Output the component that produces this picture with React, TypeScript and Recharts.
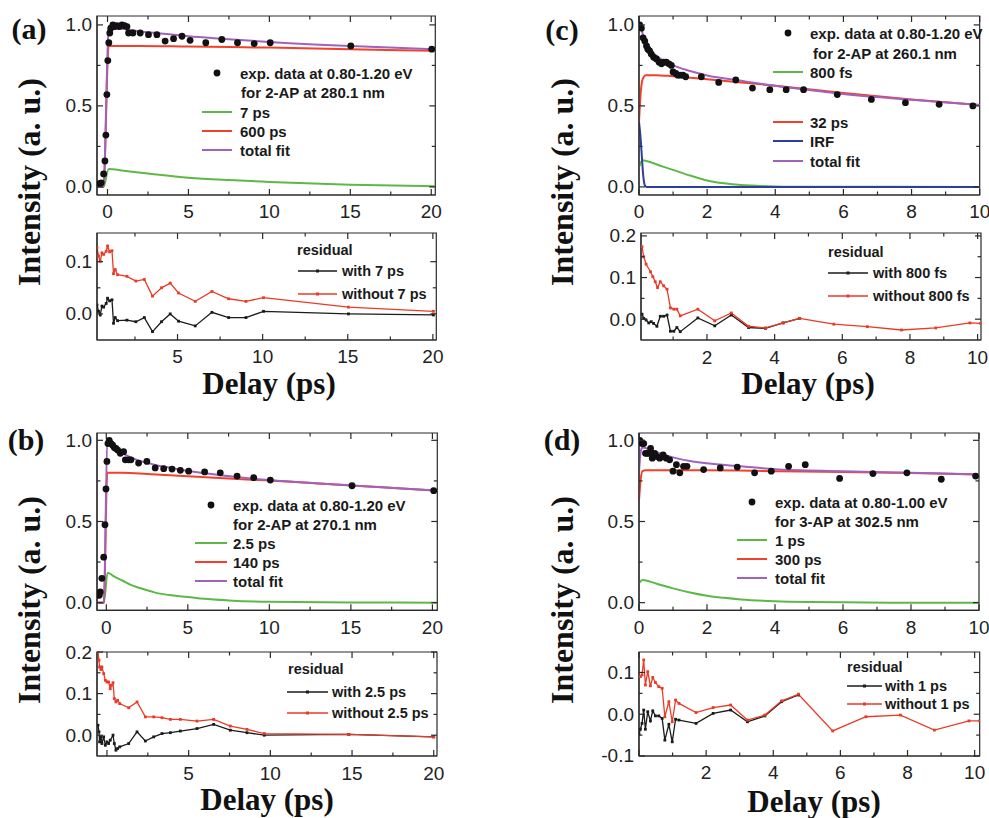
import React from "react";
import { ComposedChart, Line, Scatter, XAxis, YAxis, ReferenceArea } from "recharts";

type P = [number, number];

// colours
const GREEN = "#5cb947";
const RED = "#f2402a";
const PURPLE = "#a062bd";
const BLUE = "#2b3f9e";
const RES_RED = "#ea3b26";
const RES_BLACK = "#1b1b1b";
const AX = "#2a2a2a";

// (a) 2-AP at 280.1 nm
const aExp: P[] = [
  [-0.49, 0.02], [-0.39, 0.025], [-0.24, 0.08], [-0.16, 0.16], [-0.1, 0.32], [-0.04, 0.57],
  [0.02, 0.78], [0.08, 0.89], [0.14, 0.95], [0.2, 0.98], [0.33, 1.0], [0.45, 0.99], [0.58, 0.995],
  [0.72, 0.99], [0.89, 1.0], [1.05, 0.995], [1.2, 0.99], [1.3, 0.95], [1.57, 0.95], [2.02, 0.95],
  [2.53, 0.94], [3.05, 0.94], [3.56, 0.9], [4.08, 0.915], [4.6, 0.93], [5.1, 0.905], [6.07, 0.89],
  [7.06, 0.91], [8.03, 0.89], [9.06, 0.885], [10.05, 0.89], [15.03, 0.87], [20.03, 0.85],
];
const aFit7: P[] = [
  [-0.65, 0], [-0.25, 0], [0.07, 0.11], [1, 0.1], [2.5, 0.083], [5, 0.057], [7.5, 0.042],
  [10, 0.031], [15, 0.014], [20.25, 0.004],
];
const aFit600: P[] = [
  [-0.65, 0], [-0.25, 0], [0.07, 0.87], [2, 0.87], [5, 0.866], [10, 0.86], [15, 0.85], [20.25, 0.84],
];
const aTotal: P[] = [
  [-0.65, 0], [-0.25, 0], [0.07, 0.97], [0.2, 0.98], [1, 0.975], [2, 0.96], [3, 0.95], [5, 0.93],
  [7, 0.915], [10, 0.895], [15, 0.87], [20.25, 0.85],
];
const aResWith: P[] = [
  [0.27, 0.017], [0.36, 0.005], [0.46, -0.002], [0.56, 0.015], [0.66, 0.013], [0.81, 0.02],
  [0.89, 0.03], [1.01, 0.025], [1.15, 0.027], [1.24, -0.018], [1.34, -0.007], [1.48, -0.013],
  [2.03, -0.012], [2.55, -0.015], [3.05, -0.007], [3.53, -0.034], [4.06, -0.015], [4.57, 0.0],
  [5.06, -0.014], [6.04, -0.023], [7.02, 0.003], [8.0, -0.007], [9.02, -0.007], [10.05, 0.005],
  [15.04, 0.0], [20.03, -0.002],
];
const aResWithout: P[] = [
  [0.27, 0.127], [0.36, 0.111], [0.46, 0.101], [0.56, 0.117], [0.66, 0.114], [0.81, 0.12],
  [0.89, 0.13], [1.01, 0.119], [1.15, 0.121], [1.24, 0.077], [1.34, 0.085], [1.48, 0.075],
  [2.03, 0.072], [2.55, 0.063], [3.05, 0.066], [3.53, 0.034], [4.06, 0.05], [4.57, 0.059],
  [5.06, 0.04], [6.04, 0.024], [7.02, 0.043], [8.0, 0.029], [9.02, 0.024], [10.05, 0.031],
  [15.04, 0.013], [20.03, 0.005],
];

// (c) 2-AP at 260.1 nm
const cExp: P[] = [
  [0.02, 1.0], [0.07, 0.98], [0.12, 0.92], [0.17, 0.9], [0.22, 0.87], [0.26, 0.85], [0.31, 0.84],
  [0.36, 0.82], [0.43, 0.8], [0.51, 0.79], [0.59, 0.77], [0.66, 0.76], [0.73, 0.77], [0.8, 0.77],
  [0.88, 0.76], [0.95, 0.75], [1.0, 0.71], [1.08, 0.7], [1.14, 0.69], [1.21, 0.69], [1.29, 0.69],
  [1.37, 0.68], [1.83, 0.68], [2.34, 0.645], [2.84, 0.66], [3.33, 0.61], [3.84, 0.6], [4.32, 0.6],
  [4.83, 0.6], [5.82, 0.57], [6.82, 0.54], [7.82, 0.52], [8.81, 0.51], [9.8, 0.5],
];
const cFit800: P[] = [
  [0, 0.12], [0.1, 0.165], [0.4, 0.148], [0.7, 0.125], [1, 0.105], [1.5, 0.07], [2, 0.04],
  [2.5, 0.022], [3, 0.011], [4, 0.003], [5, 0.001], [10, 0],
];
const cFit32: P[] = [
  [0, 0.4], [0.05, 0.58], [0.1, 0.66], [0.2, 0.69], [0.5, 0.69], [1, 0.683], [2, 0.665],
  [3, 0.645], [4, 0.625], [6, 0.58], [8, 0.54], [10, 0.505],
];
const cIrf: P[] = [
  [0, 0.4], [0.04, 0.32], [0.08, 0.2], [0.12, 0.08], [0.17, 0.01], [0.22, 0], [10, 0],
];
const cTotal: P[] = [
  [0, 0.95], [0.05, 1.0], [0.1, 0.95], [0.2, 0.885], [0.4, 0.83], [0.6, 0.795], [1, 0.75],
  [1.5, 0.715], [2, 0.688], [3, 0.655], [4, 0.624], [5, 0.598], [6, 0.573], [8, 0.538], [10, 0.505],
];
const cResWith: P[] = [
  [0.08, 0.012], [0.13, 0.002], [0.2, -0.002], [0.28, -0.009], [0.35, -0.006], [0.42, -0.01],
  [0.52, -0.017], [0.62, 0.007], [0.72, 0.007], [0.82, 0.01], [0.92, -0.029], [1.02, -0.029],
  [1.11, -0.02], [1.21, -0.03], [1.73, 0.003], [2.23, -0.016], [2.72, 0.01], [3.23, -0.02],
  [3.73, -0.022], [4.25, -0.009], [4.74, 0.002],
];
const cResWithout: P[] = [
  [0.08, 0.174], [0.13, 0.15], [0.2, 0.132], [0.33, 0.114], [0.4, 0.102], [0.47, 0.09],
  [0.54, 0.076], [0.62, 0.09], [0.72, 0.08], [0.82, 0.072], [0.92, 0.027], [1.02, 0.024],
  [1.11, 0.024], [1.21, 0.008], [1.73, 0.024], [2.23, -0.004], [2.72, 0.015], [3.23, -0.017],
  [3.73, -0.021], [4.25, -0.009], [4.74, 0.002], [5.75, -0.012], [6.74, -0.018], [7.75, -0.026],
  [8.76, -0.021], [9.77, -0.009], [10.09, -0.01],
];

// (b) 2-AP at 270.1 nm
const bExp: P[] = [
  [-0.43, 0.045], [-0.37, 0.066], [-0.27, 0.15], [-0.16, 0.28], [-0.08, 0.48], [-0.02, 0.7],
  [0.04, 0.87], [0.1, 0.98], [0.18, 1.0], [0.29, 0.98], [0.39, 0.97], [0.49, 0.955], [0.59, 0.95],
  [0.7, 0.94], [0.86, 0.92], [1.06, 0.93], [1.17, 0.88], [1.37, 0.88], [1.51, 0.88], [1.98, 0.86],
  [2.49, 0.87], [3.0, 0.83], [3.52, 0.825], [4.03, 0.823], [4.54, 0.815], [5.05, 0.81],
  [6.03, 0.805], [6.99, 0.8], [8.02, 0.78], [9.04, 0.77], [10.06, 0.755], [15.07, 0.72], [20.08, 0.69],
];
const bFit25: P[] = [
  [-0.57, 0], [-0.15, 0], [0.08, 0.185], [0.5, 0.16], [1, 0.135], [1.5, 0.11], [2, 0.092],
  [2.5, 0.076], [3, 0.062], [4, 0.045], [5, 0.035], [6, 0.024], [7.5, 0.014], [10, 0.005],
  [15, 0.001], [20.3, 0],
];
const bFit140: P[] = [
  [-0.57, 0], [-0.15, 0], [0.06, 0.8], [1, 0.8], [2.5, 0.793], [5, 0.778], [7.5, 0.765],
  [10, 0.752], [15, 0.722], [20.3, 0.69],
];
const bTotal: P[] = [
  [-0.57, 0], [-0.15, 0], [0.06, 0.97], [0.2, 0.975], [0.5, 0.955], [1, 0.92], [1.5, 0.895],
  [2, 0.875], [2.5, 0.862], [3, 0.848], [4, 0.83], [5, 0.812], [7, 0.785], [10, 0.755],
  [15, 0.722], [20.3, 0.69],
];
const bResWith: P[] = [
  [-0.55, 0.024], [-0.49, 0.008], [-0.45, -0.016], [-0.37, -0.004], [-0.31, -0.02], [-0.2, -0.004],
  [-0.1, -0.024], [0, -0.016], [0.1, -0.02], [0.2, -0.012], [0.37, 0.0], [0.45, -0.02],
  [0.55, -0.036], [0.65, -0.032], [0.78, -0.028], [1.33, -0.02], [1.84, 0.008], [2.35, -0.014],
  [2.86, -0.004], [3.37, 0.004], [3.88, 0.006], [4.49, 0.01], [5.51, 0.016], [6.53, 0.026],
  [7.55, 0.012], [8.57, 0.006], [9.63, 0.0], [14.8, 0.002], [20, -0.004],
];
const bResWithout: P[] = [
  [-0.55, 0.2], [-0.49, 0.18], [-0.45, 0.164], [-0.37, 0.158], [-0.31, 0.164], [-0.2, 0.148],
  [-0.1, 0.132], [0, 0.128], [0.1, 0.128], [0.2, 0.112], [0.27, 0.12], [0.37, 0.126],
  [0.45, 0.088], [0.55, 0.08], [0.65, 0.084], [0.78, 0.076], [1.33, 0.066], [1.84, 0.08],
  [2.35, 0.044], [2.86, 0.044], [3.37, 0.042], [3.88, 0.038], [4.49, 0.038], [5.51, 0.034],
  [6.53, 0.038], [7.55, 0.022], [8.57, 0.014], [9.63, 0.004], [14.8, 0.002], [20, -0.004],
];

// (d) 3-AP at 302.5 nm
const dExp: P[] = [
  [0.02, 1.0], [0.05, 0.99], [0.09, 0.98], [0.14, 0.98], [0.19, 0.92], [0.24, 0.92], [0.29, 0.92],
  [0.34, 0.95], [0.39, 0.89], [0.46, 0.92], [0.53, 0.9], [0.61, 0.89], [0.71, 0.91], [0.8, 0.89],
  [0.9, 0.88], [1.0, 0.81], [1.1, 0.85], [1.2, 0.8], [1.31, 0.84], [1.41, 0.84], [1.9, 0.82],
  [2.39, 0.83], [2.89, 0.835], [3.4, 0.8], [3.89, 0.81], [4.4, 0.84], [4.89, 0.85], [5.9, 0.765],
  [6.88, 0.795], [7.88, 0.8], [8.89, 0.76], [9.9, 0.78],
];
const dFit1: P[] = [
  [0, 0.12], [0.1, 0.14], [0.5, 0.118], [1, 0.088], [1.5, 0.063], [2, 0.043], [2.5, 0.03],
  [3, 0.02], [4, 0.009], [5, 0.004], [6, 0.002], [8, 0], [10, 0],
];
const dFit300: P[] = [
  [0, 0.63], [0.05, 0.76], [0.1, 0.81], [0.2, 0.815], [2, 0.815], [4, 0.81], [6, 0.805],
  [8, 0.798], [10, 0.79],
];
const dTotal: P[] = [
  [0, 0.8], [0.05, 0.93], [0.1, 0.955], [0.3, 0.945], [0.6, 0.92], [1, 0.895], [1.5, 0.872],
  [2, 0.858], [3, 0.84], [4, 0.822], [6, 0.81], [8, 0.8], [10, 0.79],
];
const dResWith: P[] = [
  [0.0, -0.048], [0.04, -0.036], [0.09, -0.022], [0.14, 0.01], [0.19, -0.036], [0.26, 0.006],
  [0.34, -0.016], [0.41, 0.008], [0.49, -0.004], [0.59, -0.004], [0.69, -0.01], [0.77, -0.062],
  [0.89, -0.024], [0.99, -0.066], [1.09, -0.012], [1.19, -0.014], [1.7, -0.022], [2.21, 0.002],
  [2.73, 0.01], [3.23, -0.018], [3.75, -0.004], [4.25, 0.03], [4.75, 0.046],
];
const dResWithout: P[] = [
  [0.04, 0.09], [0.09, 0.094], [0.14, 0.13], [0.19, 0.07], [0.26, 0.102], [0.34, 0.068],
  [0.41, 0.088], [0.49, 0.076], [0.59, 0.066], [0.69, 0.062], [0.77, -0.006], [0.89, 0.03],
  [0.99, -0.018], [1.09, 0.034], [1.19, 0.026], [1.7, 0.004], [2.21, 0.016], [2.73, 0.022],
  [3.23, -0.014], [3.75, -0.002], [4.25, 0.032], [4.75, 0.048], [5.77, -0.04], [6.76, -0.006],
  [7.79, -0.002], [8.8, -0.038], [9.83, -0.016], [10.15, -0.016],
];

const toXY = (d: P[]) => d.map(([x, y]) => ({ x, y }));

interface AxisSpec {
  domain: [number, number];
  major: number[];
  minor: number[];
  labels: number[];
  fmt: (v: number) => string;
}

interface Series {
  data: P[];
  color: string;
  width: number;
  marker?: boolean;
  curve?: boolean;
}

interface PlotProps {
  L: number; T: number; R: number; B: number;
  x: AxisSpec; y: AxisSpec;
  lines: Series[];
  dots?: P[];
}

const TICK_FONT = '"Liberation Sans", Arial, sans-serif';
const int = (v: number) => String(v);
const one = (v: number) => v.toFixed(1);

function Plot({ L, T, R, B, x, y, lines, dots }: PlotProps) {
  const yw = 60, xh = 30, mt = 14, mr = 14;
  const W = R - L + yw + mr;
  const H = B - T + mt + xh;
  const pl = yw, pr = W - mr, pt = mt, pb = H - xh;

  const XTick = (p: any) => {
    const v = p.payload.value;
    const len = x.major.includes(v) ? 6 : 3.5;
    return (
      <g>
        <line x1={p.x} x2={p.x} y1={pb} y2={pb - len} stroke={AX} strokeWidth={1.2} />
        <line x1={p.x} x2={p.x} y1={pt} y2={pt + len} stroke={AX} strokeWidth={1.2} />
        {x.labels.includes(v) && (
          <text x={p.x} y={pb + 17} textAnchor="middle" dominantBaseline="central"
            fontFamily={TICK_FONT} fontSize={19} fill="#222">{x.fmt(v)}</text>
        )}
      </g>
    );
  };
  const YTick = (p: any) => {
    const v = p.payload.value;
    const len = y.major.includes(v) ? 6 : 3.5;
    return (
      <g>
        <line x1={pl} x2={pl + len} y1={p.y} y2={p.y} stroke={AX} strokeWidth={1.2} />
        <line x1={pr} x2={pr - len} y1={p.y} y2={p.y} stroke={AX} strokeWidth={1.2} />
        {y.labels.includes(v) && (
          <text x={pl - 5} y={p.y} textAnchor="end" dominantBaseline="central"
            fontFamily={TICK_FONT} fontSize={19} fill="#222">{y.fmt(v)}</text>
        )}
      </g>
    );
  };
  const xticks = [...x.major, ...x.minor].sort((a, b) => a - b);
  const yticks = [...y.major, ...y.minor].sort((a, b) => a - b);

  const Square = (props: any) => {
    if (props.cx == null || props.cy == null) return <g key={props.index} />;
    return <rect key={props.index} x={props.cx - 1.4} y={props.cy - 1.4} width={2.8} height={2.8} fill={props.stroke} />;
  };
  const Dot = (props: any) => <circle cx={props.cx} cy={props.cy} r={3.4} fill="#111" />;

  return (
    <div style={{ position: "absolute", left: L - yw, top: T - mt }}>
      <ComposedChart width={W} height={H} margin={{ top: mt, right: mr, bottom: 0, left: 0 }}>
        <XAxis type="number" dataKey="x" domain={x.domain} allowDataOverflow ticks={xticks} interval={0}
          tick={XTick} tickLine={false} tickSize={0} tickMargin={0} height={xh}
          axisLine={{ stroke: AX, strokeWidth: 1.2 }} />
        <YAxis type="number" domain={y.domain} allowDataOverflow ticks={yticks} interval={0}
          tick={YTick} tickLine={false} tickSize={0} tickMargin={0} width={yw}
          axisLine={{ stroke: AX, strokeWidth: 1.2 }} />
        <ReferenceArea x1={x.domain[0]} x2={x.domain[1]} y1={y.domain[0]} y2={y.domain[1]}
          fill="none" fillOpacity={0} stroke={AX} strokeWidth={1.2} ifOverflow="visible" />
        {lines.map((s, i) => (
          <Line key={i} data={toXY(s.data)} dataKey="y" type={s.curve ? "monotone" : "linear"}
            stroke={s.color} strokeWidth={s.width} dot={s.marker ? Square : false}
            activeDot={false} isAnimationActive={false} />
        ))}
        {dots && <Scatter data={toXY(dots)} dataKey="y" shape={Dot} isAnimationActive={false} />}
      </ComposedChart>
    </div>
  );
}

interface KeyRow { y: number; text: string; kind?: "dot" | "line" | "marker"; color?: string; tx?: number }

function Key({ x0, x1, tx, size, rows }: { x0: number; x1: number; tx: number; size: number; rows: KeyRow[] }) {
  return (
    <>
      {rows.map((r, i) => (
        <React.Fragment key={i}>
          {r.kind && (
            <svg style={{ position: "absolute", left: x0, top: r.y - 5, overflow: "visible" }} width={x1 - x0} height={10}>
              {r.kind === "dot" ? (
                <circle cx={(x1 - x0) / 2} cy={5} r={3.4} fill="#111" />
              ) : (
                <>
                  <line x1={0} x2={x1 - x0} y1={5} y2={5} stroke={r.color} strokeWidth={r.kind === "marker" ? 1.3 : 2} />
                  {r.kind === "marker" && (
                    <rect x={(x1 - x0) / 2 - 1.5} y={3.5} width={3} height={3} fill={r.color} />
                  )}
                </>
              )}
            </svg>
          )}
          <div style={{
            position: "absolute", left: r.tx ?? tx, top: r.y, transform: "translateY(-50%)",
            font: `bold ${size}px "Liberation Sans", Arial, sans-serif`, whiteSpace: "nowrap", color: "#1a1a1a",
          }}>{r.text}</div>
        </React.Fragment>
      ))}
    </>
  );
}

const serif = '"Liberation Serif", "Times New Roman", serif';

function Label({ cx, cy, text, size, rotate }: { cx: number; cy: number; text: string; size: number; rotate?: boolean }) {
  return (
    <div style={{
      position: "absolute", left: cx, top: cy, lineHeight: 1,
      transform: `translate(-50%, -50%)${rotate ? " rotate(-90deg)" : ""}`,
      font: `bold ${size}px ${serif}`, whiteSpace: "nowrap", color: "#111",
    }}>{text}</div>
  );
}

const yMain: AxisSpec = { domain: [-0.05, 1.055], major: [0, 0.5, 1], minor: [0.25, 0.75], labels: [0, 0.5, 1], fmt: one };
const yMainLow: AxisSpec = { domain: [-0.047, 1.045], major: [0, 0.5, 1], minor: [0.25, 0.75], labels: [0, 0.5, 1], fmt: one };
const xTen: AxisSpec = { domain: [0, 10], major: [0, 2, 4, 6, 8, 10], minor: [1, 3, 5, 7, 9], labels: [0, 2, 4, 6, 8, 10], fmt: int };

export default function App() {
  return (
    <div style={{ position: "absolute", left: 0, top: 0, width: 989, height: 818, background: "#fff", overflow: "hidden" }}>
      {/* (a) */}
      <Plot L={96.7} T={16} R={435} B={195}
        x={{ domain: [-0.65, 20.25], major: [0, 5, 10, 15, 20], minor: [2.5, 7.5, 12.5, 17.5], labels: [0, 5, 10, 15, 20], fmt: int }}
        y={yMain}
        lines={[
          { data: aFit7, color: GREEN, width: 2, curve: true },
          { data: aFit600, color: RED, width: 2, curve: true },
          { data: aTotal, color: PURPLE, width: 2, curve: true },
        ]}
        dots={aExp} />
      <Plot L={96.7} T={233} R={436} B={340}
        x={{ domain: [0.27, 20.2], major: [5, 10, 15, 20], minor: [2.5, 7.5, 12.5, 17.5], labels: [5, 10, 15, 20], fmt: int }}
        y={{ domain: [-0.05, 0.155], major: [0, 0.1], minor: [0.05], labels: [0, 0.1], fmt: one }}
        lines={[
          { data: aResWith, color: RES_BLACK, width: 1.3, marker: true },
          { data: aResWithout, color: RES_RED, width: 1.3, marker: true },
        ]} />
      <Key x0={202} x1={232} tx={240} size={15} rows={[
        { y: 73, text: "exp. data at 0.80-1.20 eV", kind: "dot" },
        { y: 92, text: "for 2-AP at 280.1 nm", tx: 241 },
        { y: 112, text: "7 ps", kind: "line", color: GREEN },
        { y: 131, text: "600 ps", kind: "line", color: RED },
        { y: 150, text: "total fit", kind: "line", color: PURPLE },
      ]} />
      <Key x0={298} x1={337} tx={342} size={14.5} rows={[
        { y: 250, text: "residual", tx: 297 },
        { y: 271, text: "with 7 ps", kind: "marker", color: RES_BLACK },
        { y: 294, text: "without 7 ps", kind: "marker", color: RES_RED },
      ]} />

      {/* (c) */}
      <Plot L={639.3} T={16} R={980} B={195} x={xTen} y={yMain}
        lines={[
          { data: cFit800, color: GREEN, width: 2, curve: true },
          { data: cIrf, color: BLUE, width: 2, curve: true },
          { data: cFit32, color: RED, width: 2, curve: true },
          { data: cTotal, color: PURPLE, width: 2, curve: true },
        ]}
        dots={cExp} />
      <Plot L={640.7} T={233} R={980.7} B={340}
        x={{ domain: [0.05, 10.1], major: [2, 4, 6, 8, 10], minor: [1, 3, 5, 7, 9], labels: [2, 4, 6, 8, 10], fmt: int }}
        y={{ domain: [-0.05, 0.207], major: [0, 0.1, 0.2], minor: [0.05, 0.15], labels: [0, 0.1, 0.2], fmt: one }}
        lines={[
          { data: cResWith, color: RES_BLACK, width: 1.3, marker: true },
          { data: cResWithout, color: RES_RED, width: 1.3, marker: true },
        ]} />
      <Key x0={773} x1={803} tx={810} size={15} rows={[
        { y: 33, text: "exp. data at 0.80-1.20 eV", kind: "dot" },
        { y: 53, text: "for 2-AP at 260.1 nm", tx: 813 },
        { y: 72, text: "800 fs", kind: "line", color: GREEN },
        { y: 122, text: "32 ps", kind: "line", color: RED },
        { y: 141, text: "IRF", kind: "line", color: BLUE },
        { y: 161, text: "total fit", kind: "line", color: PURPLE },
      ]} />
      <Key x0={828} x1={868} tx={873} size={14.5} rows={[
        { y: 252, text: "residual", tx: 828 },
        { y: 273, text: "with 800 fs", kind: "marker", color: RES_BLACK },
        { y: 296, text: "without 800 fs", kind: "marker", color: RES_RED },
      ]} />

      {/* (b) */}
      <Plot L={96.7} T={432.7} R={437} B={610}
        x={{ domain: [-0.57, 20.3], major: [0, 5, 10, 15, 20], minor: [2.5, 7.5, 12.5, 17.5], labels: [0, 5, 10, 15, 20], fmt: int }}
        y={yMainLow}
        lines={[
          { data: bFit25, color: GREEN, width: 2, curve: true },
          { data: bFit140, color: RED, width: 2, curve: true },
          { data: bTotal, color: PURPLE, width: 2, curve: true },
        ]}
        dots={bExp} />
      <Plot L={96.7} T={651.7} R={436.7} B={755.7}
        x={{ domain: [-0.61, 20.2], major: [0, 5, 10, 15, 20], minor: [2.5, 7.5, 12.5, 17.5], labels: [5, 10, 15, 20], fmt: int }}
        y={{ domain: [-0.05, 0.2], major: [0, 0.1, 0.2], minor: [0.05, 0.15], labels: [0, 0.1, 0.2], fmt: one }}
        lines={[
          { data: bResWith, color: RES_BLACK, width: 1.3, marker: true },
          { data: bResWithout, color: RES_RED, width: 1.3, marker: true },
        ]} />
      <Key x0={195} x1={227} tx={233} size={15} rows={[
        { y: 505, text: "exp. data at 0.80-1.20 eV", kind: "dot" },
        { y: 524, text: "for 2-AP at 270.1 nm" },
        { y: 543, text: "2.5 ps", kind: "line", color: GREEN },
        { y: 562, text: "140 ps", kind: "line", color: RED },
        { y: 581, text: "total fit", kind: "line", color: PURPLE },
      ]} />
      <Key x0={287} x1={328} tx={332} size={14.5} rows={[
        { y: 669, text: "residual", tx: 288 },
        { y: 692, text: "with 2.5 ps", kind: "marker", color: RES_BLACK },
        { y: 713, text: "without 2.5 ps", kind: "marker", color: RES_RED },
      ]} />

      {/* (d) */}
      <Plot L={639.3} T={432.7} R={979.3} B={610} x={xTen} y={yMainLow}
        lines={[
          { data: dFit1, color: GREEN, width: 2, curve: true },
          { data: dFit300, color: RED, width: 2, curve: true },
          { data: dTotal, color: PURPLE, width: 2, curve: true },
        ]}
        dots={dExp} />
      <Plot L={639.3} T={651.7} R={980} B={755.7}
        x={{ domain: [0, 10.15], major: [0, 2, 4, 6, 8, 10], minor: [1, 3, 5, 7, 9], labels: [2, 4, 6, 8, 10], fmt: int }}
        y={{ domain: [-0.1, 0.149], major: [-0.1, 0, 0.1], minor: [-0.05, 0.05], labels: [-0.1, 0, 0.1], fmt: one }}
        lines={[
          { data: dResWith, color: RES_BLACK, width: 1.3, marker: true },
          { data: dResWithout, color: RES_RED, width: 1.3, marker: true },
        ]} />
      <Key x0={737} x1={767} tx={775} size={15} rows={[
        { y: 502, text: "exp. data at 0.80-1.00 eV", kind: "dot" },
        { y: 521, text: "for 3-AP at 302.5 nm" },
        { y: 540, text: "1 ps", kind: "line", color: GREEN },
        { y: 559, text: "300 ps", kind: "line", color: RED },
        { y: 578, text: "total fit", kind: "line", color: PURPLE },
      ]} />
      <Key x0={847} x1={882} tx={885} size={14.5} rows={[
        { y: 667, text: "residual", tx: 847 },
        { y: 686, text: "with 1 ps", kind: "marker", color: RES_BLACK },
        { y: 704, text: "without 1 ps", kind: "marker", color: RES_RED },
      ]} />

      {/* panel labels and axis titles */}
      <Label cx={29} cy={29} text="(a)" size={30} />
      <Label cx={562} cy={30} text="(c)" size={30} />
      <Label cx={26} cy={440} text="(b)" size={30} />
      <Label cx={562} cy={440} text="(d)" size={30} />
      <Label cx={29} cy={182} text="Intensity (a. u.)" size={32} rotate />
      <Label cx={562} cy={182} text="Intensity (a. u.)" size={32} rotate />
      <Label cx={29} cy={600} text="Intensity (a. u.)" size={32} rotate />
      <Label cx={562} cy={600} text="Intensity (a. u.)" size={32} rotate />
      <Label cx={269} cy={384} text="Delay (ps)" size={31} />
      <Label cx={808} cy={384} text="Delay (ps)" size={31} />
      <Label cx={267} cy={800} text="Delay (ps)" size={31} />
      <Label cx={814} cy={802} text="Delay (ps)" size={31} />
    </div>
  );
}
